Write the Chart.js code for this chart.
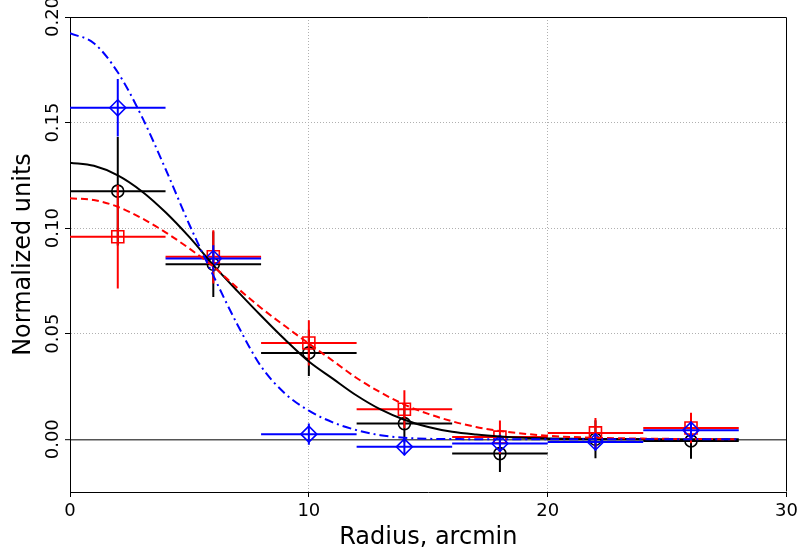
<!DOCTYPE html>
<html>
<head>
<meta charset="utf-8">
<script src="https://cdn.jsdelivr.net/npm/chart.js@4.4.1/dist/chart.umd.min.js"></script>
<style>
html,body{margin:0;padding:0;background:#fff;}
canvas{display:block;}
</style>
</head>
<body>
<canvas id="c" width="802" height="549"></canvas>
<script>
// ---- data ----
const radius = [2, 6, 10, 14, 18, 22, 26];
const radiusErr = [2, 2, 2, 2, 2, 2, 2];

const blackValues = [0.1175, 0.0829, 0.0409, 0.0074, -0.0068, 0.0000, -0.0008];
const blackErr    = [0.0257, 0.0155, 0.0110, 0.0090, 0.0087, 0.0090, 0.0084];

const redValues = [0.0959, 0.0864, 0.0456, 0.0142, 0.0010, 0.0030, 0.0053];
const redErr    = [0.0245, 0.0126, 0.0107, 0.0090, 0.0079, 0.0071, 0.0072];

const blueValues = [0.1570, 0.0856, 0.0024, -0.0036, -0.0020, -0.0013, 0.0043];
const blueErr    = [0.0136, 0.0063, 0.0050, 0.0040, 0.0040, 0.0040, 0.0040];

const curveRadius = [0,1,2,3,4,5,6,7,8,9,10,11,12,13,14,15,16,17,18,19,20,22,24,26,28];
const blackCurve = [0.1310,0.1295,0.1250,0.1175,0.1075,0.0957,0.0825,0.0703,0.0585,0.0472,0.0368,0.0287,0.0207,0.0141,0.0092,0.0058,0.0035,0.0022,0.0013,0.0007,0.0004,0.0001,0,0,0];
const redCurve   = [0.1141,0.1133,0.1101,0.1047,0.0980,0.0903,0.0818,0.0717,0.0622,0.0536,0.0453,0.0372,0.0290,0.0222,0.0164,0.0120,0.0085,0.0058,0.0039,0.0026,0.0016,0.0007,0.0003,0.0001,0];
const blueCurve  = [0.1923,0.1876,0.1738,0.1530,0.1280,0.1016,0.0775,0.0545,0.0345,0.0217,0.0135,0.0080,0.0043,0.0019,0.0007,0.0002,0.0001,0,0,0,0,0,0,0,0];

const xTicks = [0, 10, 20, 30];
const yTicks = [0, 0.05, 0.10, 0.15, 0.20];

const xTitle = 'Radius, arcmin';
const yTitle = 'Normalized units';

// ---- helpers ----
const pts = (xs, ys) => xs.map((x, i) => ({x: x, y: ys[i]}));

const errorBars = {
  id: 'errorBars',
  beforeDatasetDraw(chart, args) {
    const ds = chart.data.datasets[args.index];
    if (!ds.errY) return;
    const xs = chart.scales.x, ys = chart.scales.y, ctx = chart.ctx, a = chart.chartArea;
    ctx.save();
    ctx.beginPath();
    ctx.rect(a.left, a.top, a.right - a.left, a.bottom - a.top);
    ctx.clip();
    ctx.strokeStyle = ds.borderColor;
    ctx.lineWidth = 2;
    ctx.beginPath();
    ds.data.forEach((p, i) => {
      const px = xs.getPixelForValue(p.x), py = ys.getPixelForValue(p.y);
      ctx.moveTo(xs.getPixelForValue(p.x - ds.errX[i]), py);
      ctx.lineTo(xs.getPixelForValue(p.x + ds.errX[i]), py);
      ctx.moveTo(px, ys.getPixelForValue(p.y - ds.errY[i]));
      ctx.lineTo(px, ys.getPixelForValue(p.y + ds.errY[i]));
    });
    ctx.stroke();
    ctx.restore();
  }
};

const frame = {
  id: 'frame',
  afterDraw(chart) {
    const a = chart.chartArea, ctx = chart.ctx;
    ctx.save();
    ctx.strokeStyle = '#000';
    ctx.lineWidth = 1;
    ctx.beginPath();
    ctx.moveTo(Math.round(a.left) + 0.5, Math.round(a.top) + 0.5);
    ctx.lineTo(Math.round(a.right) - 0.5, Math.round(a.top) + 0.5);
    ctx.lineTo(Math.round(a.right) - 0.5, Math.round(a.bottom) - 0.5);
    ctx.stroke();
    ctx.restore();
  }
};

Chart.defaults.font.family = "'DejaVu Sans', sans-serif";
Chart.defaults.color = '#000';

const markerBase = {
  showLine: false,
  backgroundColor: 'rgba(0,0,0,0)',
  pointBorderWidth: 1.6,
  pointHoverRadius: 0
};

new Chart(document.getElementById('c'), {
  type: 'scatter',
  data: {
    datasets: [
      Object.assign({}, markerBase, {
        label: 'black data', data: pts(radius, blackValues), errX: radiusErr, errY: blackErr,
        borderColor: '#000000', pointStyle: 'circle', pointRadius: 6, order: 6
      }),
      Object.assign({}, markerBase, {
        label: 'red data', data: pts(radius, redValues), errX: radiusErr, errY: redErr,
        borderColor: '#ff0000', pointStyle: 'rect', pointRadius: 8.5, order: 5
      }),
      Object.assign({}, markerBase, {
        label: 'blue data', data: pts(radius, blueValues), errX: radiusErr, errY: blueErr,
        borderColor: '#0000ff', pointStyle: 'rectRot', pointRadius: 8, order: 4
      }),
      {
        label: 'black model', data: pts(curveRadius, blackCurve), showLine: true, pointRadius: 0,
        borderColor: '#000000', borderWidth: 2, cubicInterpolationMode: 'monotone', order: 3
      },
      {
        label: 'red model', data: pts(curveRadius, redCurve), showLine: true, pointRadius: 0,
        borderColor: '#ff0000', borderWidth: 2, borderDash: [7, 4], cubicInterpolationMode: 'monotone', order: 2
      },
      {
        label: 'blue model', data: pts(curveRadius, blueCurve), showLine: true, pointRadius: 0,
        borderColor: '#0000ff', borderWidth: 2, borderDash: [9, 4, 2, 4], cubicInterpolationMode: 'monotone', order: 1
      }
    ]
  },
  options: {
    responsive: false,
    animation: false,
    layout: { padding: { top: 17, right: 13, left: 0, bottom: 0 } },
    plugins: { legend: { display: false }, tooltip: { enabled: false } },
    scales: {
      x: {
        type: 'linear', min: 0, max: 30,
        afterBuildTicks: s => { s.ticks = xTicks.map(v => ({value: v})); },
        afterFit: s => { s.height = 57; },
        ticks: { font: { size: 18 }, padding: 4, callback: v => String(v), maxRotation: 0, autoSkip: false },
        grid: {
          color: c => (c.tick && (c.tick.value === 0 || c.tick.value === 30)) ? 'rgba(0,0,0,0)' : '#b0b0b0',
          lineWidth: 1, tickLength: 5, tickColor: '#000', tickWidth: 1
        },
        border: { display: true, color: '#000', width: 1, dash: [1, 2] },
        title: { display: true, text: xTitle, font: { size: 24, lineHeight: 0.9 }, padding: { top: 0, bottom: 0 } }
      },
      y: {
        type: 'linear', min: -0.025, max: 0.2,
        afterBuildTicks: s => { s.ticks = yTicks.map(v => ({value: v})); },
        afterFit: s => { s.width = 70; },
        ticks: {
          font: { size: 18 }, padding: -8.5, minRotation: 90, maxRotation: 90, crossAlign: 'center',
          callback: v => Number(v).toFixed(2), autoSkip: false
        },
        grid: {
          color: c => (c.tick && c.tick.value === 0) ? '#555555' : ((c.tick && c.tick.value === 0.2) ? 'rgba(0,0,0,0)' : '#b0b0b0'),
          lineWidth: c => (c.tick && c.tick.value === 0) ? 1.4 : 1,
          tickLength: 5, tickColor: '#000', tickWidth: 1
        },
        border: { display: true, color: '#000', width: 1, dash: c => (c.tick && c.tick.value === 0) ? [] : [1, 2] },
        title: { display: true, text: yTitle, font: { size: 24 }, padding: { top: 9, bottom: 0 } }
      }
    }
  },
  plugins: [errorBars, frame]
});
</script>
</body>
</html>
